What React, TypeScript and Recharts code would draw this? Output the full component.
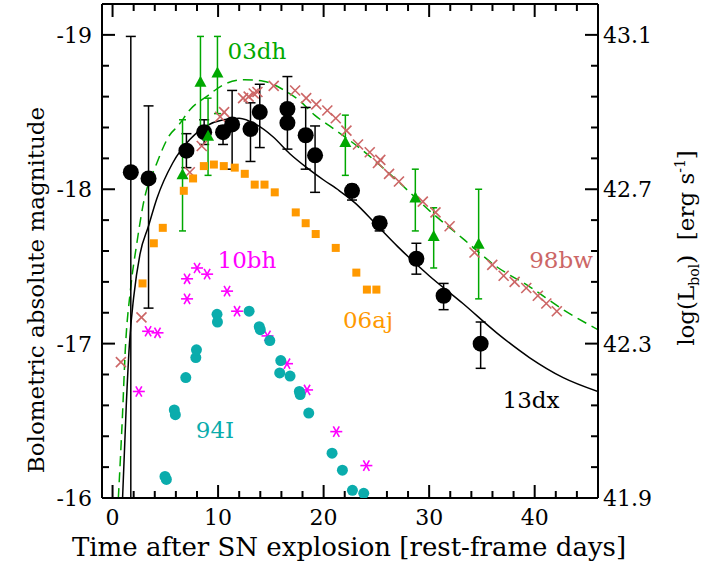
import React from 'react';
import {
  ComposedChart,
  XAxis,
  YAxis,
  Line,
  Scatter,
  ErrorBar,
  Customized,
} from 'recharts';

const FONT = '"DejaVu Serif", serif';

// SN 2013dx bolometric light curve (filled circles with error bars)
const dxT = [1.73, 3.41, 7.0, 8.68, 10.47, 11.33, 13.07, 13.95, 16.57, 16.57, 18.3, 19.19, 22.69, 25.31, 28.79, 31.37, 34.88];
const dxM = [-18.11, -18.07, -18.25, -18.37, -18.37, -18.42, -18.39, -18.5, -18.52, -18.43, -18.35, -18.22, -17.99, -17.78, -17.55, -17.31, -17.0];
const dxUpper = [-18.99, -18.54, -18.36, -18.45, -18.41, -18.64, -18.56, -18.68, -18.73, -18.52, -18.53, -18.41, -18.03, -17.82, -17.65, -17.39, -17.14];
const dxLower = [-16.0, -17.23, -18.14, -18.29, -18.29, -18.13, -18.18, -18.27, -18.43, -18.26, -18.13, -17.98, -17.93, -17.73, -17.45, -17.22, -16.84];

// SN 2003dh (triangles with error bars)
const dhT = [6.63, 8.33, 9.05, 9.94, 22.06, 28.69, 30.43, 34.69];
const dhM = [-18.09, -18.69, -18.34, -18.75, -18.3, -17.94, -17.69, -17.64];
const dhUpper = [-18.45, -18.99, -18.59, -18.99, -18.48, -18.13, -17.88, -18.0];
const dhLower = [-17.73, -18.38, -18.09, -18.49, -18.09, -17.73, -17.49, -17.29];

// SN 2006aj (squares)
const ajT = [2.84, 3.91, 4.76, 6.75, 7.63, 8.65, 9.6, 10.54, 11.58, 12.53, 13.47, 14.4, 15.37, 17.36, 18.3, 19.25, 21.15, 23.1, 24.1, 25.0];
const ajM = [-17.39, -17.65, -17.75, -17.99, -18.07, -18.15, -18.16, -18.15, -18.14, -18.1, -18.03, -18.03, -17.98, -17.85, -17.78, -17.71, -17.62, -17.46, -17.35, -17.35];

// SN 1998bw (crosses)
const bwT = [0.79, 2.74, 7.32, 8.45, 10.2, 10.57, 12.37, 12.9, 13.38, 13.73, 15.27, 17.3, 18.35, 19.3, 20.35, 21.15, 22.16, 23.26, 24.37, 25.15, 25.37, 26.2, 27.14, 29.4, 30.6, 31.94, 34.3, 35.98, 37.06, 38.1, 39.2, 40.3, 41.1, 42.1];
const bwM = [-16.88, -17.17, -18.11, -18.28, -18.47, -18.5, -18.59, -18.6, -18.62, -18.63, -18.67, -18.64, -18.59, -18.55, -18.51, -18.46, -18.38, -18.29, -18.24, -18.17, -18.19, -18.1, -18.05, -17.92, -17.85, -17.76, -17.59, -17.51, -17.44, -17.4, -17.36, -17.31, -17.26, -17.21];

// SN 2010bh (asterisks)
const bhT = [2.49, 3.37, 4.26, 7.06, 7.06, 8.01, 8.96, 10.85, 11.8, 14.68, 16.53, 18.43, 21.2, 24.05];
const bhM = [-16.69, -17.08, -17.07, -17.42, -17.29, -17.49, -17.45, -17.34, -17.21, -17.05, -16.87, -16.7, -16.43, -16.21];

// SN 1994I (small circles)
const iT = [4.97, 5.1, 5.85, 5.95, 6.94, 7.89, 7.95, 9.9, 9.94, 12.94, 13.9, 14.0, 14.9, 15.94, 15.84, 16.82, 17.7, 17.78, 18.59, 20.8, 21.78, 22.73, 23.8];
const iM = [-16.14, -16.12, -16.57, -16.54, -16.78, -16.91, -16.96, -17.19, -17.14, -17.21, -17.11, -17.09, -17.02, -16.89, -16.81, -16.79, -16.69, -16.67, -16.55, -16.29, -16.18, -16.05, -16.03];

// model curves: 13dx (solid) and 03dh (dashed)
const modelDxT = [0.95, 1.3, 1.6, 2.0, 2.6, 3.4, 4.2, 5.7, 7.3, 8.9, 10.5, 12.0, 13.6, 15.2, 16.8, 18.4, 20.0, 21.5, 23.0, 25.0, 27.0, 30.0, 33.2, 36.4, 39.5, 42.7, 46.0];
const modelDxM = [-16.0, -16.6, -17.0, -17.3, -17.58, -17.76, -17.94, -18.17, -18.32, -18.41, -18.45, -18.46, -18.42, -18.34, -18.23, -18.14, -18.06, -17.99, -17.91, -17.77, -17.63, -17.44, -17.26, -17.07, -16.91, -16.78, -16.69];
const modelDhT = [0.55, 0.95, 1.2, 1.7, 2.3, 2.9, 4.2, 5.4, 6.2, 7.4, 8.9, 10.6, 12.5, 14.3, 16.3, 17.7, 19.15, 20.57, 23.73, 26.9, 30.05, 33.2, 36.36, 39.5, 42.7, 46.0];
const modelDhM = [-16.0, -16.55, -16.95, -17.35, -17.65, -17.9, -18.17, -18.35, -18.41, -18.52, -18.6, -18.68, -18.71, -18.7, -18.64, -18.575, -18.48, -18.41, -18.25, -18.06, -17.86, -17.68, -17.5, -17.37, -17.22, -17.09];

// axis ticks
const xMajor = [0, 10, 20, 30, 40];
const xTicks = [0, 2, 4, 6, 8, 10, 12, 14, 16, 18, 20, 22, 24, 26, 28, 30, 32, 34, 36, 38, 40, 42, 44];
const yMajor = [-19, -18, -17, -16];
const yTicks = [-19, -18.8, -18.6, -18.4, -18.2, -18, -17.8, -17.6, -17.4, -17.2, -17, -16.8, -16.6, -16.4, -16.2, -16];
const lumLabels = ['43.1', '42.7', '42.3', '41.9'];

const X_DOMAIN = [-1, 46];
const Y_DOMAIN = [-19.2, -16];

const COLORS = {
  dx: '#000000',
  dh: '#00a800',
  aj: '#ff9900',
  bw: '#cc6666',
  bh: '#ff00ff',
  i: '#0aacac',
};

const points = (ts: number[], ms: number[]) => ts.map((t, k) => ({ t, m: ms[k] }));
const withErrors = (ts: number[], ms: number[], up: number[], lo: number[]) =>
  ts.map((t, k) => ({ t, m: ms[k], err: [ms[k] - up[k], lo[k] - ms[k]] }));

const dxData = withErrors(dxT, dxM, dxUpper, dxLower);
const dhData = withErrors(dhT, dhM, dhUpper, dhLower);
const ajData = points(ajT, ajM);
const bwData = points(bwT, bwM);
const bhData = points(bhT, bhM);
const iData = points(iT, iM);
const modelDx = points(modelDxT, modelDxM);
const modelDh = points(modelDhT, modelDhM);

const isMajor = (list: number[], v: number) => list.some((m) => Math.abs(m - v) < 1e-6);

// inward tick marks, placed on the frame edges through the chart scales
// side: which edge the mark sits on; len: mark length in px
const frameTicks = [
  ...xTicks.map((t) => ({ t, m: Y_DOMAIN[1], side: 'bottom', len: isMajor(xMajor, t) ? 13 : 7 })),
  ...xTicks.map((t) => ({ t, m: Y_DOMAIN[0], side: 'top', len: isMajor(xMajor, t) ? 13 : 7 })),
  ...yTicks.map((m) => ({ t: X_DOMAIN[0], m, side: 'left', len: isMajor(yMajor, m) ? 13 : 7 })),
  ...yTicks.map((m) => ({ t: X_DOMAIN[1], m, side: 'right', len: isMajor(yMajor, m) ? 13 : 7 })),
];

const TickMark = ({ cx, cy, payload }: any) => {
  const { side, len } = payload;
  let x2 = cx;
  let y2 = cy;
  if (side === 'bottom') y2 = cy - len;
  if (side === 'top') y2 = cy + len;
  if (side === 'left') x2 = cx + len;
  if (side === 'right') x2 = cx - len;
  return <path d={`M${cx} ${cy}L${x2} ${y2}`} stroke="#000" strokeWidth={2} fill="none" />;
};

const BottomLabel = ({ x, y, payload }: any) =>
  isMajor(xMajor, payload.value) ? (
    <text x={x} y={y + 27} textAnchor="middle" fontFamily={FONT} fontSize={22} fill="#000">
      {payload.value}
    </text>
  ) : (
    <g />
  );

const LeftLabel = ({ x, y, payload }: any) =>
  isMajor(yMajor, payload.value) ? (
    <text x={x - 10} y={y + 8} textAnchor="end" fontFamily={FONT} fontSize={22} fill="#000">
      {payload.value}
    </text>
  ) : (
    <g />
  );

const RightLabel = ({ x, y, payload }: any) => {
  const idx = yMajor.findIndex((m) => Math.abs(m - payload.value) < 1e-6);
  return idx >= 0 ? (
    <text x={x + 5} y={y + 8} textAnchor="start" fontFamily={FONT} fontSize={22} fill="#000">
      {lumLabels[idx]}
    </text>
  ) : (
    <g />
  );
};

const BigDot = ({ cx, cy }: any) => <circle cx={cx} cy={cy} r={8} fill={COLORS.dx} />;
const SmallDot = ({ cx, cy }: any) => <circle cx={cx} cy={cy} r={5.5} fill={COLORS.i} />;
const Square = ({ cx, cy }: any) => <rect x={cx - 4} y={cy - 4} width={8} height={8} fill={COLORS.aj} />;
const Triangle = ({ cx, cy }: any) => (
  <polygon points={`${cx},${cy - 7} ${cx - 6},${cy + 4} ${cx + 6},${cy + 4}`} fill={COLORS.dh} />
);
const Cross = ({ cx, cy }: any) => (
  <g stroke={COLORS.bw} strokeWidth={1.6}>
    <line x1={cx - 5} y1={cy - 5} x2={cx + 5} y2={cy + 5} />
    <line x1={cx - 5} y1={cy + 5} x2={cx + 5} y2={cy - 5} />
  </g>
);
const Asterisk = ({ cx, cy }: any) => (
  <g stroke={COLORS.bh} strokeWidth={1.6}>
    <line x1={cx - 6} y1={cy} x2={cx + 6} y2={cy} />
    <line x1={cx - 3} y1={cy - 5.2} x2={cx + 3} y2={cy + 5.2} />
    <line x1={cx - 3} y1={cy + 5.2} x2={cx + 3} y2={cy - 5.2} />
  </g>
);

const Annotations = () => (
  <g fontFamily={FONT}>
    <text x={349} y={556} textAnchor="middle" fontSize={26} fill="#000">
      Time after SN explosion [rest-frame days]
    </text>
    <text x={44} y={290} transform="rotate(-90 44 290)" textAnchor="middle" fontSize={23} fill="#000">
      Bolometric absolute magnitude
    </text>
    <text x={694} y={248} transform="rotate(-90 694 248)" textAnchor="middle" fontSize={23} fill="#000" style={{ whiteSpace: 'pre' }}>
      log(L<tspan fontSize={14} dy={5}>bol</tspan>
      <tspan dy={-5}>{')  [erg s'}</tspan>
      <tspan fontSize={14} dy={-9}>-1</tspan>
      <tspan dy={9}>]</tspan>
    </text>
    <text x={257} y={59} textAnchor="middle" fontSize={23} fill={COLORS.dh}>03dh</text>
    <text x={561} y={268} textAnchor="middle" fontSize={23} fill={COLORS.bw}>98bw</text>
    <text x={247} y={268} textAnchor="middle" fontSize={23} fill={COLORS.bh}>10bh</text>
    <text x={368} y={328} textAnchor="middle" fontSize={23} fill={COLORS.aj}>06aj</text>
    <text x={531} y={408} textAnchor="middle" fontSize={23} fill={COLORS.dx}>13dx</text>
    <text x={215} y={438} textAnchor="middle" fontSize={23} fill={COLORS.i}>94I</text>
  </g>
);

const axisLine = { stroke: '#000', strokeWidth: 2 };

export default function App() {
  return (
    <div style={{ position: 'absolute', left: 0, top: 0, background: '#fff' }}>
      <ComposedChart width={719} height={569} margin={{ top: 3, right: 120, bottom: 70, left: 101 }}>
        <XAxis
          dataKey="t"
          type="number"
          domain={X_DOMAIN}
          allowDataOverflow
          ticks={xTicks}
          interval={0}
          height={1}
          tickSize={0}
          tickMargin={0}
          tickLine={false}
          axisLine={axisLine}
          tick={(p: any) => <BottomLabel {...p} />}
        />
        <XAxis
          xAxisId="top"
          orientation="top"
          dataKey="t"
          type="number"
          domain={X_DOMAIN}
          allowDataOverflow
          height={1}
          tick={false}
          tickLine={false}
          axisLine={axisLine}
        />
        <YAxis
          type="number"
          domain={Y_DOMAIN}
          reversed
          allowDataOverflow
          ticks={yTicks}
          interval={0}
          width={1}
          tickSize={0}
          tickMargin={0}
          tickLine={false}
          axisLine={axisLine}
          tick={(p: any) => <LeftLabel {...p} />}
        />
        <YAxis
          yAxisId="right"
          orientation="right"
          type="number"
          domain={Y_DOMAIN}
          reversed
          allowDataOverflow
          ticks={yTicks}
          interval={0}
          width={1}
          tickSize={0}
          tickMargin={0}
          tickLine={false}
          axisLine={axisLine}
          tick={(p: any) => <RightLabel {...p} />}
        />

        <Scatter data={frameTicks} dataKey="m" shape={TickMark} isAnimationActive={false} />

        <Line
          data={modelDh}
          dataKey="m"
          type="monotone"
          stroke={COLORS.dh}
          strokeWidth={1.5}
          strokeDasharray="10 6"
          dot={false}
          activeDot={false}
          isAnimationActive={false}
        />
        <Line
          data={modelDx}
          dataKey="m"
          type="monotone"
          stroke={COLORS.dx}
          strokeWidth={1.5}
          dot={false}
          activeDot={false}
          isAnimationActive={false}
        />

        <Scatter data={bwData} dataKey="m" shape={Cross} isAnimationActive={false} />
        <Scatter data={ajData} dataKey="m" shape={Square} isAnimationActive={false} />
        <Scatter data={bhData} dataKey="m" shape={Asterisk} isAnimationActive={false} />
        <Scatter data={iData} dataKey="m" shape={SmallDot} isAnimationActive={false} />
        <Scatter data={dxData} dataKey="m" shape={BigDot} isAnimationActive={false}>
          <ErrorBar dataKey="err" direction="y" width={5} stroke={COLORS.dx} strokeWidth={1.5} isAnimationActive={false} />
        </Scatter>
        <Scatter data={dhData} dataKey="m" shape={Triangle} isAnimationActive={false}>
          <ErrorBar dataKey="err" direction="y" width={3.5} stroke={COLORS.dh} strokeWidth={1.5} isAnimationActive={false} />
        </Scatter>

        <Customized component={Annotations} />
      </ComposedChart>
    </div>
  );
}
